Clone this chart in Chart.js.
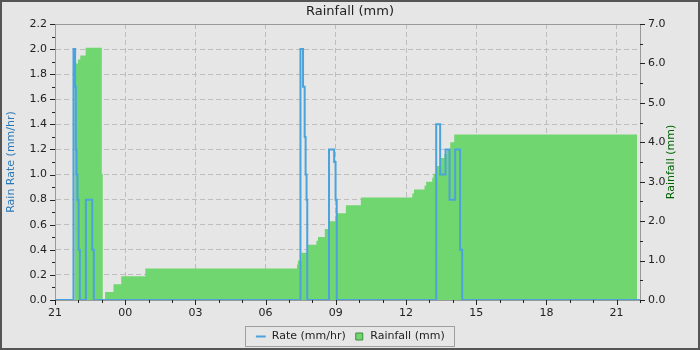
<!DOCTYPE html>
<html>
<head>
<meta charset="utf-8">
<script src="https://cdn.jsdelivr.net/npm/chart.js@4"></script>
<style>
  body { margin: 0; background: #e6e6e6; }
  canvas { display: block; }
</style>
</head>
<body>
<canvas id="c" width="700" height="350"></canvas>
<script>
// hours counted from 21:00 of the first day (24 = 00:00, 45 = 21:00 next day)
const rateTimes  = [21, 21.79, 21.86, 21.89, 21.92, 21.96, 22.01, 22.06, 22.32, 22.59, 22.66,
                    31.49, 31.60, 31.67, 31.71, 31.75, 31.78, 32.71, 32.93, 32.99, 33.04,
                    37.29, 37.46, 37.69, 37.86, 38.10, 38.31, 38.40, 46];
const rateValues = [0, 2.0, 1.7, 1.2, 1.0, 0.8, 0.4, 0, 0.8, 0.4, 0,
                    2.0, 1.7, 1.3, 1.0, 0.8, 0, 1.2, 1.1, 0.8, 0,
                    1.4, 1.0, 1.2, 0.8, 1.2, 0.4, 0, 0];

const rainTimes  = [21, 21.84, 21.98, 22.08, 22.31, 23.0, 23.04, 23.14, 23.5, 23.83, 24.86,
                    31.34, 31.38, 31.53, 31.81, 32.17, 32.24, 32.53, 32.74, 33.03, 33.43, 34.07,
                    36.27, 36.34, 36.79, 36.86, 37.12, 37.17, 37.32, 37.5, 37.64, 37.74, 37.89, 38.06, 45.88];
const rainTotals = [0, 6.0, 6.1, 6.2, 6.4, 3.2, 0, 0.2, 0.4, 0.6, 0.8,
                    0.9, 1.0, 1.2, 1.4, 1.5, 1.6, 1.8, 2.0, 2.2, 2.4, 2.6,
                    2.7, 2.8, 2.9, 3.0, 3.1, 3.2, 3.4, 3.6, 3.7, 3.8, 4.0, 4.2, 4.2];

const hourLabelEvery = 3;

Chart.defaults.font.family = "'DejaVu Sans', sans-serif";
Chart.defaults.font.size = 11;
Chart.defaults.color = '#222';

const PLOT_BOTTOM = 300;
const PAD_BOTTOM = -2;

function isRateMajor(v) { return Math.round(v * 10) % 2 === 0; }
function isHourMajor(v) { return Math.round(v) % hourLabelEvery === 0; }

// background, outer frame, plot frame, short/long tick marks, right axis title, legend box
const decor = {
  id: 'decor',
  beforeDraw(chart) {
    const ctx = chart.ctx;
    ctx.save();
    ctx.fillStyle = '#e6e6e6';
    ctx.fillRect(0, 0, chart.width, chart.height);
    ctx.restore();
  },
  beforeDatasetsDraw(chart) {
    const {ctx, chartArea: a} = chart;
    ctx.save();
    ctx.strokeStyle = '#999';
    ctx.lineWidth = 1;
    ctx.strokeRect(a.left + 0.5, a.top + 0.5, a.right - a.left, a.bottom - a.top);
    ctx.restore();
  },
  afterDraw(chart) {
    const {ctx, chartArea: a} = chart;
    ctx.save();
    ctx.strokeStyle = '#222';
    ctx.lineWidth = 1;
    ctx.beginPath();
    const xs = chart.scales.x;
    xs.ticks.forEach((t, i) => {
      const px = Math.round(xs.getPixelForTick(i)) + 0.5;
      const len = isHourMajor(t.value) ? 5 : 3;
      ctx.moveTo(px, a.bottom);
      ctx.lineTo(px, a.bottom + len);
    });
    const ys = chart.scales.y;
    ys.ticks.forEach((t, i) => {
      const py = Math.round(ys.getPixelForTick(i)) + 0.5;
      const len = isRateMajor(t.value) ? 5 : 3;
      ctx.moveTo(a.left, py);
      ctx.lineTo(a.left - len, py);
    });
    const y1 = chart.scales.y1;
    y1.ticks.forEach((t, i) => {
      const py = Math.round(y1.getPixelForTick(i)) + 0.5;
      const len = Number.isInteger(t.value) ? 5 : 3;
      ctx.moveTo(a.right, py);
      ctx.lineTo(a.right + len, py);
    });
    ctx.stroke();

    // right axis title, reading bottom to top
    ctx.translate(671, (a.top + a.bottom) / 2);
    ctx.rotate(-Math.PI / 2);
    ctx.fillStyle = '#006400';
    ctx.font = "11px 'DejaVu Sans'";
    ctx.textAlign = 'center';
    ctx.textBaseline = 'middle';
    ctx.fillText('Rainfall (mm)', 0, 0);
    ctx.setTransform(1, 0, 0, 1, 0, 0);

    // legend frame
    const boxes = chart.legend.legendHitBoxes;
    if (boxes && boxes.length) {
      const l = Math.min(...boxes.map(b => b.left)) - 10;
      const r = Math.max(...boxes.map(b => b.left + b.width)) + 10;
      const t = Math.min(...boxes.map(b => b.top)) - 5;
      const b = Math.max(...boxes.map(b => b.top + b.height)) + 4;
      ctx.strokeStyle = '#a0a0a0';
      ctx.strokeRect(Math.round(l) + 0.5, Math.round(t) + 0.5, Math.round(r - l), Math.round(b - t));
    }

    // outer frame
    ctx.strokeStyle = '#555';
    ctx.lineWidth = 2;
    ctx.strokeRect(1, 1, chart.width - 2, chart.height - 2);
    ctx.restore();
  }
};

new Chart(document.getElementById('c'), {
  type: 'line',
  data: {
    datasets: [
      {
        label: 'Rate (mm/hr)',
        data: rateTimes.map((t, i) => ({x: t, y: rateValues[i]})),
        yAxisID: 'y',
        stepped: true,
        borderColor: '#4ba3dc',
        backgroundColor: '#4ba3dc',
        borderWidth: 2,
        pointRadius: 0,
        pointStyle: 'line',
        fill: false,
        order: 0
      },
      {
        label: 'Rainfall (mm)',
        data: rainTimes.map((t, i) => ({x: t, y: rainTotals[i]})),
        yAxisID: 'y1',
        stepped: true,
        borderColor: 'rgba(0,0,0,0)',
        backgroundColor: '#70d670',
        borderWidth: 0,
        pointRadius: 0,
        pointStyle: 'rect',
        fill: 'origin',
        order: 1
      }
    ]
  },
  options: {
    responsive: false,
    animation: false,
    events: [],
    layout: { padding: { top: 2, left: 2, right: 2, bottom: PAD_BOTTOM } },
    plugins: {
      title: {
        display: true,
        text: 'Rainfall (mm)',
        color: '#222',
        font: { size: 13, weight: 'normal' },
        padding: { top: 2.2, bottom: 4.2 }
      },
      legend: {
        position: 'bottom',
        labels: {
          usePointStyle: true,
          boxWidth: 11,
          boxHeight: 7,
          padding: 8,
          color: '#222',
          font: { size: 11 },
          generateLabels(chart) {
            const items = Chart.defaults.plugins.legend.labels.generateLabels(chart);
            items[1].strokeStyle = '#3c8c3c';
            items[1].lineWidth = 1;
            return items;
          }
        }
      },
      tooltip: { enabled: false }
    },
    scales: {
      x: {
        type: 'linear',
        min: 21,
        max: 46,
        afterFit(s) { s.height = s.chart.height - PLOT_BOTTOM - PAD_BOTTOM - s.chart.legend.height; },
        ticks: {
          stepSize: 1,
          autoSkip: false,
          maxRotation: 0,
          padding: 7,
          color: '#222',
          callback(v) { return isHourMajor(v) ? String(Math.round(v) % 24).padStart(2, '0') : ''; }
        },
        grid: {
          drawTicks: false,
          color: c => (c.tick && isHourMajor(c.tick.value) && c.tick.value > 21) ? '#bdbdbd' : 'rgba(0,0,0,0)',
          lineWidth: 1
        },
        border: { color: '#999', dash: [5, 3] }
      },
      y: {
        position: 'left',
        min: 0,
        max: 2.2,
        afterFit(s) { s.width = 53; },
        ticks: {
          stepSize: 0.1,
          autoSkip: false,
          padding: 8,
          color: '#222',
          callback(v) { return isRateMajor(v) ? v.toFixed(1) : ''; }
        },
        grid: {
          drawTicks: false,
          color: c => (c.tick && isRateMajor(c.tick.value) && c.tick.value > 0 && c.tick.value < 2.2) ? '#bdbdbd' : 'rgba(0,0,0,0)'
        },
        border: { color: '#999', dash: [5, 3] },
        title: {
          display: true,
          text: 'Rain Rate (mm/hr)',
          color: '#2b78b8',
          font: { size: 11 },
          padding: { top: 3, bottom: 0 }
        }
      },
      y1: {
        position: 'right',
        min: 0,
        max: 7,
        afterFit(s) { s.width = 58; },
        ticks: {
          stepSize: 0.5,
          autoSkip: false,
          padding: 8,
          color: '#222',
          callback(v) { return Number.isInteger(v) ? v.toFixed(1) : ''; }
        },
        grid: { drawOnChartArea: false, drawTicks: false },
        border: { color: '#999' }
      }
    }
  },
  plugins: [decor]
});
</script>
</body>
</html>
